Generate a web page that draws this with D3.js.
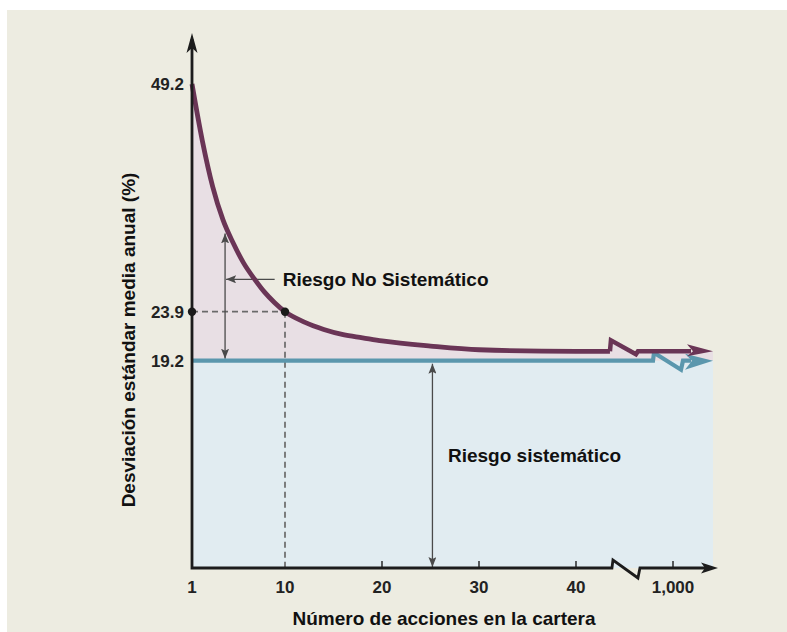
<!DOCTYPE html>
<html><head><meta charset="utf-8">
<script src="https://cdn.jsdelivr.net/npm/d3@7"></script>
<style>
html,body{margin:0;padding:0;background:#fff;}
svg{display:block;font-family:"Liberation Sans",Arial,sans-serif;}
</style></head>
<body>
<svg id="chart" width="787" height="632"></svg>
<script>
// ---- data ----
const xTicks = [1, 10, 20, 30, 40, 1000];
const xTickLabels = ["1", "10", "20", "30", "40", "1,000"];
const yTicks = [49.2, 23.9, 19.2];
const yTickLabels = ["49.2", "23.9", "19.2"];
const stocks = [1, 2, 3, 4, 5, 6, 7, 8, 9, 10, 12, 14, 16, 18, 20, 25, 30, 40, 43.5];
const stdDev = [49.2, 42.9, 37.8, 34.1, 31.5, 29.3, 27.6, 26.1, 24.9, 23.9, 22.9, 22.2, 21.7, 21.4, 21.1, 20.6, 20.25, 20.1, 20.1];
const systematic = 19.2;
const markStocks = 10, markSD = 23.9;
const labels = {
  x: "Número de acciones en la cartera",
  y: "Desviación estándar media anual (%)",
  nonSys: "Riesgo No Sistemático",
  sys: "Riesgo sistemático"
};
const nonSysArrow = {x: 4.2, top: 32.6, labelX: 9.0, labelY: 27.5};
const sysArrow = {x: 25.2, labelX: 26.8, labelY: 9.5};

// ---- layout ----
const svg = d3.select("#chart");
const C = {bg:"#edece1", pink:"#e8dfe4", blue:"#e1ecf1", purple:"#6a3556", blueLine:"#5b97ad", axis:"#1c1c1c", ann:"#4a4a4a"};
// schematic (non-uniform) axes, as in the original figure
const x = d3.scaleLinear().domain([1, 10, 40, 45, 1000]).range([192, 285, 576, 624.5, 673]);
const y = d3.scaleLinear().domain([-0.7, 19.2, 23.9, 49.2, 54.85]).range([568, 360.7, 311.7, 84, 33]);
const plotRight = 713, axisEnd = 718;
const yMin = y.domain()[0], yMax = y.domain()[y.domain().length - 1];
const yb = y(systematic), ya = y(yMin), yTop = y(yMax);
const data = stocks.map((s, i) => ({s, v: stdDev[i]}));

svg.append("rect").attr("x", 7).attr("y", 10).attr("width", 780).attr("height", 622).attr("fill", C.bg);

// systematic fill
svg.append("rect").attr("x", x(1)).attr("y", yb).attr("width", plotRight - x(1)).attr("height", ya - yb).attr("fill", C.blue);

// non-systematic fill
const area = d3.area().x(d => x(d.s)).y0(yb).y1(d => y(d.v)).curve(d3.curveMonotoneX);
svg.append("path").datum(data).attr("d", area).attr("fill", C.pink);
const last = data[data.length - 1];
const bx = x(last.s), yc = y(last.v);
const purpleTail = [[bx, yc], [bx + 1, yc - 11], [bx + 26, yc + 3], [bx + 28, yc], [plotRight - 22, yc]];
svg.append("path")
  .attr("d", d3.line()([[bx, yb], ...purpleTail, [plotRight, yc], [plotRight, yb]]) + "Z")
  .attr("fill", C.pink);

// dashed reference lines
svg.append("line").attr("x1", x(1)).attr("x2", x(markStocks)).attr("y1", y(markSD)).attr("y2", y(markSD))
  .attr("stroke", "#6a6a6a").attr("stroke-width", 1.7).attr("stroke-dasharray", "6,4");
svg.append("line").attr("x1", x(markStocks)).attr("x2", x(markStocks)).attr("y1", y(markSD)).attr("y2", ya)
  .attr("stroke", "#6a6a6a").attr("stroke-width", 1.7).attr("stroke-dasharray", "6,4");

// arrow markers
const defs = svg.append("defs");
defs.append("marker").attr("id", "ah").attr("viewBox", "0 0 10 8").attr("refX", 10).attr("refY", 4)
  .attr("markerWidth", 10).attr("markerHeight", 8).attr("markerUnits", "userSpaceOnUse").attr("orient", "auto")
  .append("path").attr("d", "M0,0 L10,4 L0,8 L2,4 Z").attr("fill", C.ann);
defs.append("marker").attr("id", "ahs").attr("viewBox", "0 0 10 8").attr("refX", 0).attr("refY", 4)
  .attr("markerWidth", 10).attr("markerHeight", 8).attr("markerUnits", "userSpaceOnUse").attr("orient", "auto")
  .append("path").attr("d", "M10,0 L0,4 L10,8 L8,4 Z").attr("fill", C.ann);

// annotation arrows
svg.append("line").attr("x1", x(nonSysArrow.x)).attr("x2", x(nonSysArrow.x))
  .attr("y1", yb - 2).attr("y2", y(nonSysArrow.top))
  .attr("stroke", C.ann).attr("stroke-width", 1.3).attr("marker-end", "url(#ah)").attr("marker-start", "url(#ahs)");
svg.append("line").attr("x1", x(nonSysArrow.labelX)).attr("x2", x(nonSysArrow.x) + 1)
  .attr("y1", y(nonSysArrow.labelY)).attr("y2", y(nonSysArrow.labelY))
  .attr("stroke", C.ann).attr("stroke-width", 1.3).attr("marker-end", "url(#ah)");
svg.append("line").attr("x1", x(sysArrow.x)).attr("x2", x(sysArrow.x))
  .attr("y1", yb + 3).attr("y2", ya - 1)
  .attr("stroke", C.ann).attr("stroke-width", 1.3).attr("marker-end", "url(#ah)").attr("marker-start", "url(#ahs)");

// systematic line with break
const blueBreak = x(1000) - 20;
svg.append("path")
  .attr("d", d3.line()([[x(1), yb], [blueBreak, yb], [blueBreak + 1, yb - 8], [blueBreak + 28, yb + 9], [blueBreak + 30, yb], [plotRight - 22, yb]]))
  .attr("fill", "none").attr("stroke", C.blueLine).attr("stroke-width", 4.2).attr("stroke-linejoin", "miter");
svg.append("path")
  .attr("d", d3.line()([[plotRight, yb], [plotRight - 28, yb - 7], [plotRight - 21, yb], [plotRight - 28, yb + 9]]) + "Z")
  .attr("fill", C.blueLine);

// total risk curve
const line = d3.line().x(d => x(d.s)).y(d => y(d.v)).curve(d3.curveMonotoneX);
svg.append("path").datum(data).attr("d", line).attr("fill", "none").attr("stroke", C.purple).attr("stroke-width", 4.8);
svg.append("path").attr("d", d3.line()(purpleTail)).attr("fill", "none").attr("stroke", C.purple).attr("stroke-width", 4.5);
svg.append("path")
  .attr("d", d3.line()([[plotRight, yc], [plotRight - 26, yc - 7], [plotRight - 20, yc], [plotRight - 26, yc + 5]]) + "Z")
  .attr("fill", C.purple);

// axes
const axBreak = bx + 2;
svg.append("path")
  .attr("d", d3.line()([[x(1), yTop + 6], [x(1), ya], [axBreak, ya], [axBreak + 1, ya - 8], [axBreak + 26, ya + 10], [axBreak + 28, ya], [axisEnd - 8, ya]]))
  .attr("fill", "none").attr("stroke", C.axis).attr("stroke-width", 2.8).attr("stroke-linejoin", "miter");
svg.append("path").attr("d", d3.line()([[axisEnd, ya], [axisEnd - 17, ya - 5.5], [axisEnd - 13, ya], [axisEnd - 17, ya + 5.5]]) + "Z").attr("fill", C.axis);
svg.append("path").attr("d", d3.line()([[x(1), yTop], [x(1) - 5.5, yTop + 20], [x(1), yTop + 15], [x(1) + 5.5, yTop + 20]]) + "Z").attr("fill", C.axis);

// x ticks
xTicks.forEach((t, i) => {
  if (t !== 1 && t !== markStocks) {
    svg.append("line").attr("x1", x(t)).attr("x2", x(t)).attr("y1", ya).attr("y2", ya - 7)
      .attr("stroke", C.axis).attr("stroke-width", 1.4);
  }
  svg.append("text").attr("x", x(t)).attr("y", ya + 25).attr("text-anchor", "middle")
    .attr("font-size", 17).attr("font-weight", "bold").attr("fill", "#222").text(xTickLabels[i]);
});
// y ticks
yTicks.forEach((t, i) => {
  svg.append("text").attr("x", x(1) - 8).attr("y", y(t)).attr("dy", "0.35em").attr("text-anchor", "end")
    .attr("font-size", 17).attr("font-weight", "bold").attr("fill", "#222").text(yTickLabels[i]);
});

// dots
[[x(1), y(markSD)], [x(markStocks), y(markSD)]].forEach(p => {
  svg.append("circle").attr("cx", p[0]).attr("cy", p[1]).attr("r", 4.2).attr("fill", "#1a1a1a");
});

// labels
svg.append("text").attr("x", x(nonSysArrow.labelX) + 8).attr("y", y(nonSysArrow.labelY) + 7)
  .attr("font-size", 19).attr("font-weight", "bold").attr("fill", "#111").text(labels.nonSys);
svg.append("text").attr("x", x(sysArrow.labelX)).attr("y", y(sysArrow.labelY))
  .attr("font-size", 19).attr("font-weight", "bold").attr("fill", "#111").text(labels.sys);
svg.append("text").attr("x", 444).attr("y", 625).attr("text-anchor", "middle")
  .attr("font-size", 19).attr("font-weight", "bold").attr("fill", "#111").text(labels.x);
svg.append("text").attr("transform", "translate(135,340) rotate(-90)").attr("text-anchor", "middle")
  .attr("font-size", 19).attr("font-weight", "bold").attr("fill", "#111").text(labels.y);
</script>
</body></html>
